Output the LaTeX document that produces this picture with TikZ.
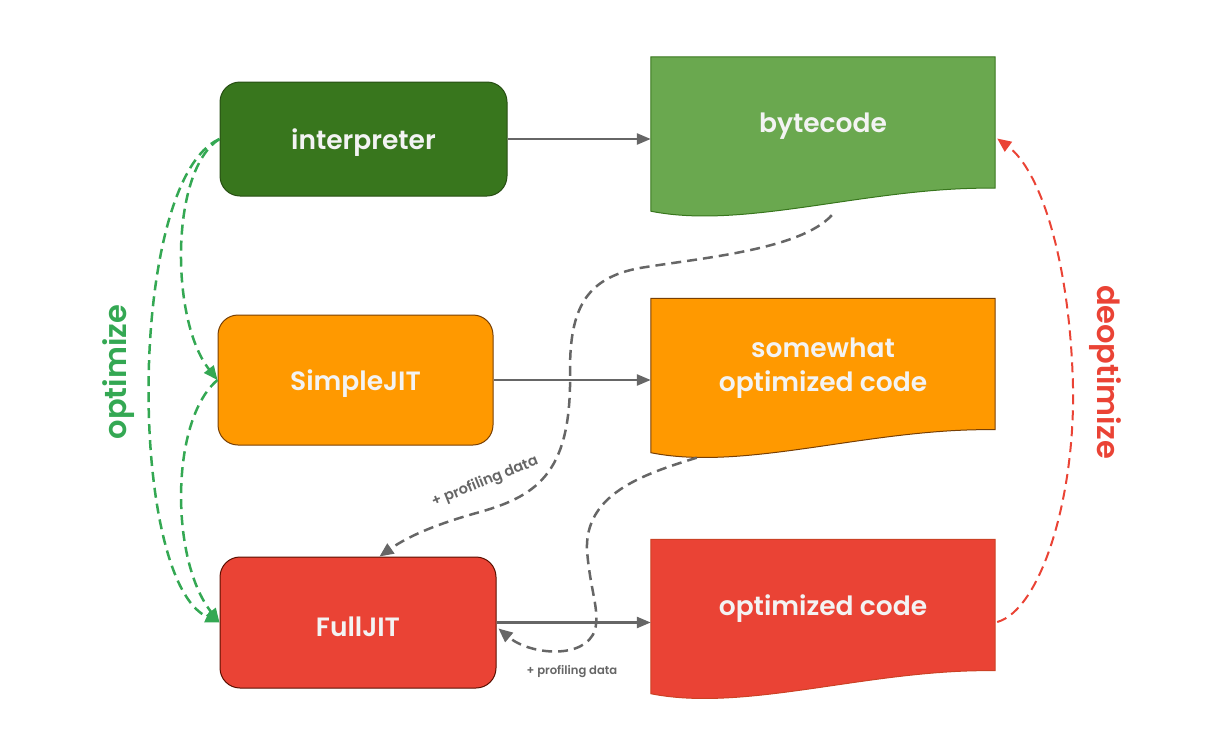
\documentclass[tikz,border=0pt]{standalone}
\usepackage{fontspec}
\setmainfont{Poppins}[BoldFont={Poppins SemiBold}]
\usetikzlibrary{arrows.meta,calc}
\definecolor{dkgreen}{HTML}{38761D}
\definecolor{dkgreenb}{HTML}{274E13}
\definecolor{ltgreen}{HTML}{6AA84F}
\definecolor{orng}{HTML}{FF9900}
\definecolor{orngb}{HTML}{783F04}
\definecolor{rd}{HTML}{EA4335}
\definecolor{rdb}{HTML}{5B0F00}
\definecolor{rddoc}{HTML}{CC4125}
\definecolor{gry}{HTML}{666666}
\definecolor{optgreen}{HTML}{34A853}
\definecolor{txt}{HTML}{F3F3F3}
\pgfdeclarelayer{bg}
\pgfsetlayers{bg,main}
\tikzset{
  box/.style={rectangle, rounded corners=20pt, line width=1pt, text=txt, font=\bfseries\fontsize{26.5}{30}\selectfont},
  docbox/.style={rectangle, minimum width=344pt, minimum height=131pt, inner sep=0pt, text=txt, align=center, font=\bfseries\fontsize{26.5}{34}\selectfont},
  boxtext/.style={yshift=-4pt},
  solidarrow/.style={draw=gry, line width=2.5pt, -{Triangle[length=14pt,width=11pt]}},
  greydash/.style={draw=gry, line width=2.5pt, dash pattern=on 10pt off 6pt, -{Triangle[length=14pt,width=12pt]}},
  greendash/.style={draw=optgreen, line width=2.5pt, dash pattern=on 10pt off 6pt, -{Triangle[length=14pt,width=12pt]}},
  reddash/.style={draw=rd, line width=2pt, dash pattern=on 10pt off 6pt, -{Triangle[length=14pt,width=12pt]}},
  proflabel/.style={text=gry, inner sep=1pt, font=\bfseries\fontsize{14.5}{16}\selectfont},
}
\begin{document}
\begin{tikzpicture}[x=1pt,y=-1pt]
\useasboundingbox (0,0) rectangle (1224,750);
% process boxes
\node[box, fill=dkgreen, draw=dkgreenb, minimum width=287pt, minimum height=114pt] (interp) at (363.5,139) {};
\node[box, fill=orng, draw=orngb, minimum width=275pt, minimum height=130pt] (sj) at (355.5,380) {};
\node[box, fill=rd, draw=rdb, minimum width=276pt, minimum height=131pt] (fj) at (358,622.5) {};
\node[box, boxtext] (interpT) at (interp) {interpreter};
\node[box, boxtext] (sjT) at (sj) {SimpleJIT};
\node[box, boxtext] (fjT) at (fj) {FullJIT};
% document nodes
\node[docbox] (bc) at (823,122.5) {};
\node[docbox] (soc) at (823,364) {};
\node[docbox] (oc) at (823,605) {};
\node[docbox, boxtext, minimum width=0pt, minimum height=0pt] (bcT) at (bc) {bytecode};
\node[docbox, boxtext, minimum width=0pt, minimum height=0pt] (socT) at (soc) {somewhat\\optimized code};
\node[docbox, boxtext, minimum width=0pt, minimum height=0pt] (ocT) at (oc) {optimized code};
\begin{pgfonlayer}{bg}
\foreach \d/\f/\b in {bc/ltgreen/dkgreen, soc/orng/orngb, oc/rd/rddoc}{
  \filldraw[fill=\f, draw=\b, line width=1pt]
    (\d.north west) -- (\d.north east) -- (\d.south east)
    .. controls ($(\d.south east)+(-125,-2)$) and ($(\d.south west)+(95,42)$)
    .. ($(\d.south west)+(0,23)$) -- cycle;
}
\end{pgfonlayer}
% solid arrows
\draw[solidarrow] (interp.east) -- (interp.east -| bc.west);
\draw[solidarrow] (sj.east) -- (sj.east -| soc.west);
\draw[solidarrow] (fj.east) -- (fj.east -| oc.west);
% profiling paths
\coordinate (bcb) at ($(bc.south west)+(181,27)$);
\coordinate (socb) at ($(soc.south west)+(46,28)$);
\draw[greydash] (bcb) .. controls (800,250) and (700,258) .. (640,268)
  .. controls (585,278) and (570,310) .. (570,370)
  .. controls (572,470) and (540,495) .. (480,512)
  .. controls (440,523) and (410,535) .. ($(fj.north west)+(160,0)$);
\draw[greydash] (socb) .. controls (640,475) and (585,495) .. (587,550)
  .. controls (590,590) and (600,610) .. (595,630)
  .. controls (585,660) and (530,655) .. ($(fj.east)+(2,6)$);
\node[proflabel, rotate=22] (pl1) at (485,482) {+ profiling data};
\node[proflabel, font=\bfseries\fontsize{11.6}{13}\selectfont] (pl2) at (572,672) {+ profiling data};
% optimize
\draw[greendash] (interp.west) .. controls (170,170) and (170,320) .. (sj.west);
\draw[greendash] (sj.west) .. controls (170,420) and (170,560) .. (fj.west);
\draw[greendash] (interp.west) .. controls (127,180) and (127,580) .. (fj.west);
\node[text=optgreen, rotate=90, font=\bfseries\fontsize{30.5}{34}\selectfont] (opt) at (119,372) {optimize};
% deoptimize
\draw[reddash] ($(oc.east)+(2,17)$) .. controls (1040,610) and (1075,500) .. (1073,387)
  .. controls (1070,260) and (1040,170) .. ($(bc.east)+(2,16)$);
\node[text=rd, rotate=-90, font=\bfseries\fontsize{30.5}{34}\selectfont] (deopt) at (1105,372) {deoptimize};
\end{tikzpicture}
\end{document}
